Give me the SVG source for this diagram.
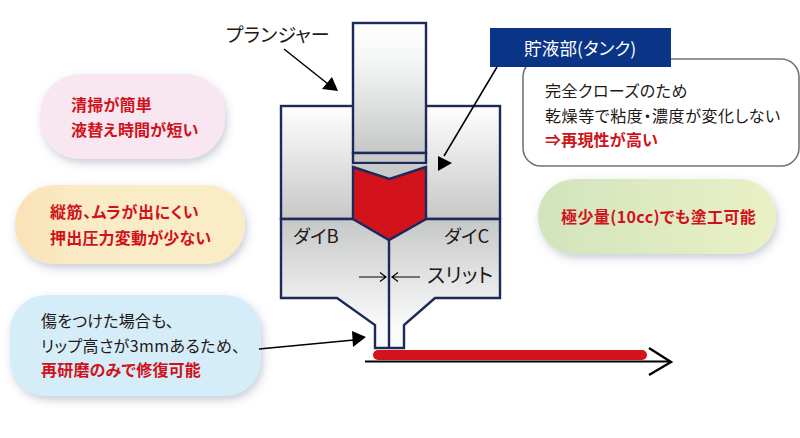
<svg xmlns="http://www.w3.org/2000/svg" width="800" height="438" viewBox="0 0 800 438">
<style>
text{font-family:"Noto Sans CJK JP","Noto Sans",sans-serif;font-size:16px;fill:#231815;font-feature-settings:"palt";letter-spacing:.2px}
.r{fill:#d0121b;font-weight:700}
.big{font-size:18.500px}
.die{stroke:#1b2a5b;stroke-width:2.400;stroke-linejoin:miter}
.ln{stroke:#000;fill:none}
</style>
<defs>
<linearGradient id="up" x1="0" y1="0" x2="0" y2="1"><stop offset="0" stop-color="#fff"/><stop offset="1" stop-color="#c6c7c7"/></linearGradient>
<linearGradient id="pl" x1="0" y1="0" x2="0" y2="1"><stop offset="0" stop-color="#fff"/><stop offset=".3" stop-color="#f4f5f5"/><stop offset="1" stop-color="#c6c7c7"/></linearGradient>
<linearGradient id="down" gradientUnits="userSpaceOnUse" x1="0" y1="219" x2="0" y2="325"><stop offset="0" stop-color="#c6c7c7"/><stop offset="1" stop-color="#fafafa"/></linearGradient>
<linearGradient id="or" x1="0" y1="0" x2="1" y2="0"><stop offset="0" stop-color="#fbe2b6"/><stop offset=".3" stop-color="#faebc6"/><stop offset="1" stop-color="#faedc6"/></linearGradient>
<linearGradient id="gr" x1="0" y1="0" x2="1" y2="0"><stop offset="0" stop-color="#d2e4bd"/><stop offset="1" stop-color="#eaf0c6"/></linearGradient>
<filter id="sh" x="-15%" y="-25%" width="130%" height="150%"><feDropShadow dx="2" dy="4" stdDeviation="4" flood-color="#4a5a7a" flood-opacity=".3"/></filter>
</defs>
<g id="bubble-pink"><rect x="40" y="74" width="185" height="85" rx="40" fill="#f8e6f1" filter="url(#sh)"/>
<text class="r" x="71" y="110.500">清掃が簡単</text><text class="r" x="71" y="135.500">液替え時間が短い</text></g>
<g id="bubble-orange"><rect x="15" y="185" width="230" height="79" rx="39" fill="url(#or)" filter="url(#sh)"/>
<text class="r" x="50" y="218" style="letter-spacing:.6px">縦筋、ムラが出にくい</text><text class="r" x="50" y="244">押出圧力変動が少ない</text></g>
<g id="bubble-blue"><rect x="10" y="295" width="251" height="101" rx="36" fill="#d5ecf9" filter="url(#sh)"/>
<text x="41" y="327">傷をつけた場合も、</text><text x="41" y="352" style="letter-spacing:.4px">リップ高さが3mmあるため、</text><text class="r" x="41" y="376">再研磨のみで修復可能</text></g>
<g id="bubble-green"><rect x="538" y="179" width="238" height="75" rx="37" fill="url(#gr)" filter="url(#sh)"/>
<text class="r" x="561" y="223" style="letter-spacing:.4px">極少量(10cc)でも塗工可能</text></g>
<g id="note"><rect x="523" y="59" width="276" height="107" rx="18" fill="#fff" stroke="#70737f" stroke-width="1.600"/>
<text x="545" y="97" style="letter-spacing:.5px">完全クローズのため</text><text x="545" y="122" style="letter-spacing:.6px">乾燥等で粘度・濃度が変化しない</text><text class="r" x="545" y="146">⇒再現性が高い</text></g>
<g id="tank-label"><rect x="490" y="28" width="181" height="39" fill="#0a3486"/><text x="524" y="55" style="fill:#fff;font-size:17.500px">貯液部(タンク)</text></g>
<g id="die">
<rect class="die" x="281" y="106" width="219" height="113" fill="url(#up)"/>
<path class="die" fill="url(#down)" d="M281 219H500V298H435L404 325V348H375V325L337 298H281Z"/>
<rect class="die" x="353" y="23" width="73" height="130" fill="url(#pl)"/>
<rect class="die" x="353" y="153" width="73" height="10" fill="#c9caca"/>
<path fill="#c9caca" d="M354 164H425V167L389.500 179L354 167Z"/>
<path class="die" fill="#d2131b" d="M353 167L389.500 179L426 167V219L389 240L353 219Z"/>
<path class="die" fill="none" d="M389 240V348"/>
<text id="die-b" class="big" x="293" y="243">ダイB</text><text id="die-c" class="big" x="444" y="243">ダイC</text>
</g>
<g id="labels"><text class="big" x="226" y="42" style="font-size:19px">プランジャー</text><text class="big" x="427" y="283" style="font-size:20px">スリット</text></g>
<g id="film"><path d="M365 361.500H670" stroke="#000" stroke-width="2"/><rect x="373" y="350" width="274" height="10" rx="5" fill="#d2131b"/></g>
<g id="connectors">
<path class="ln" stroke-width="1.500" d="M284 49L328 84"/><path d="M338 91L322 89L332 77Z"/>
<path class="ln" stroke-width="1.500" d="M497 67L444 156"/><path d="M438 156L452 163L438 171Z"/>
<path class="ln" stroke-width="1.500" d="M259 349L354 340"/><path d="M352 331L366 337L353 347Z"/>
<path class="ln" stroke-width="1.200" d="M359 277H385M380 272.500L386 277L380 281.500M420 277H393M398 272.500L392 277L398 281.500"/>
<path class="ln" stroke-width="2.400" d="M649 348L671 362L649 375"/>
</g>
</svg>
